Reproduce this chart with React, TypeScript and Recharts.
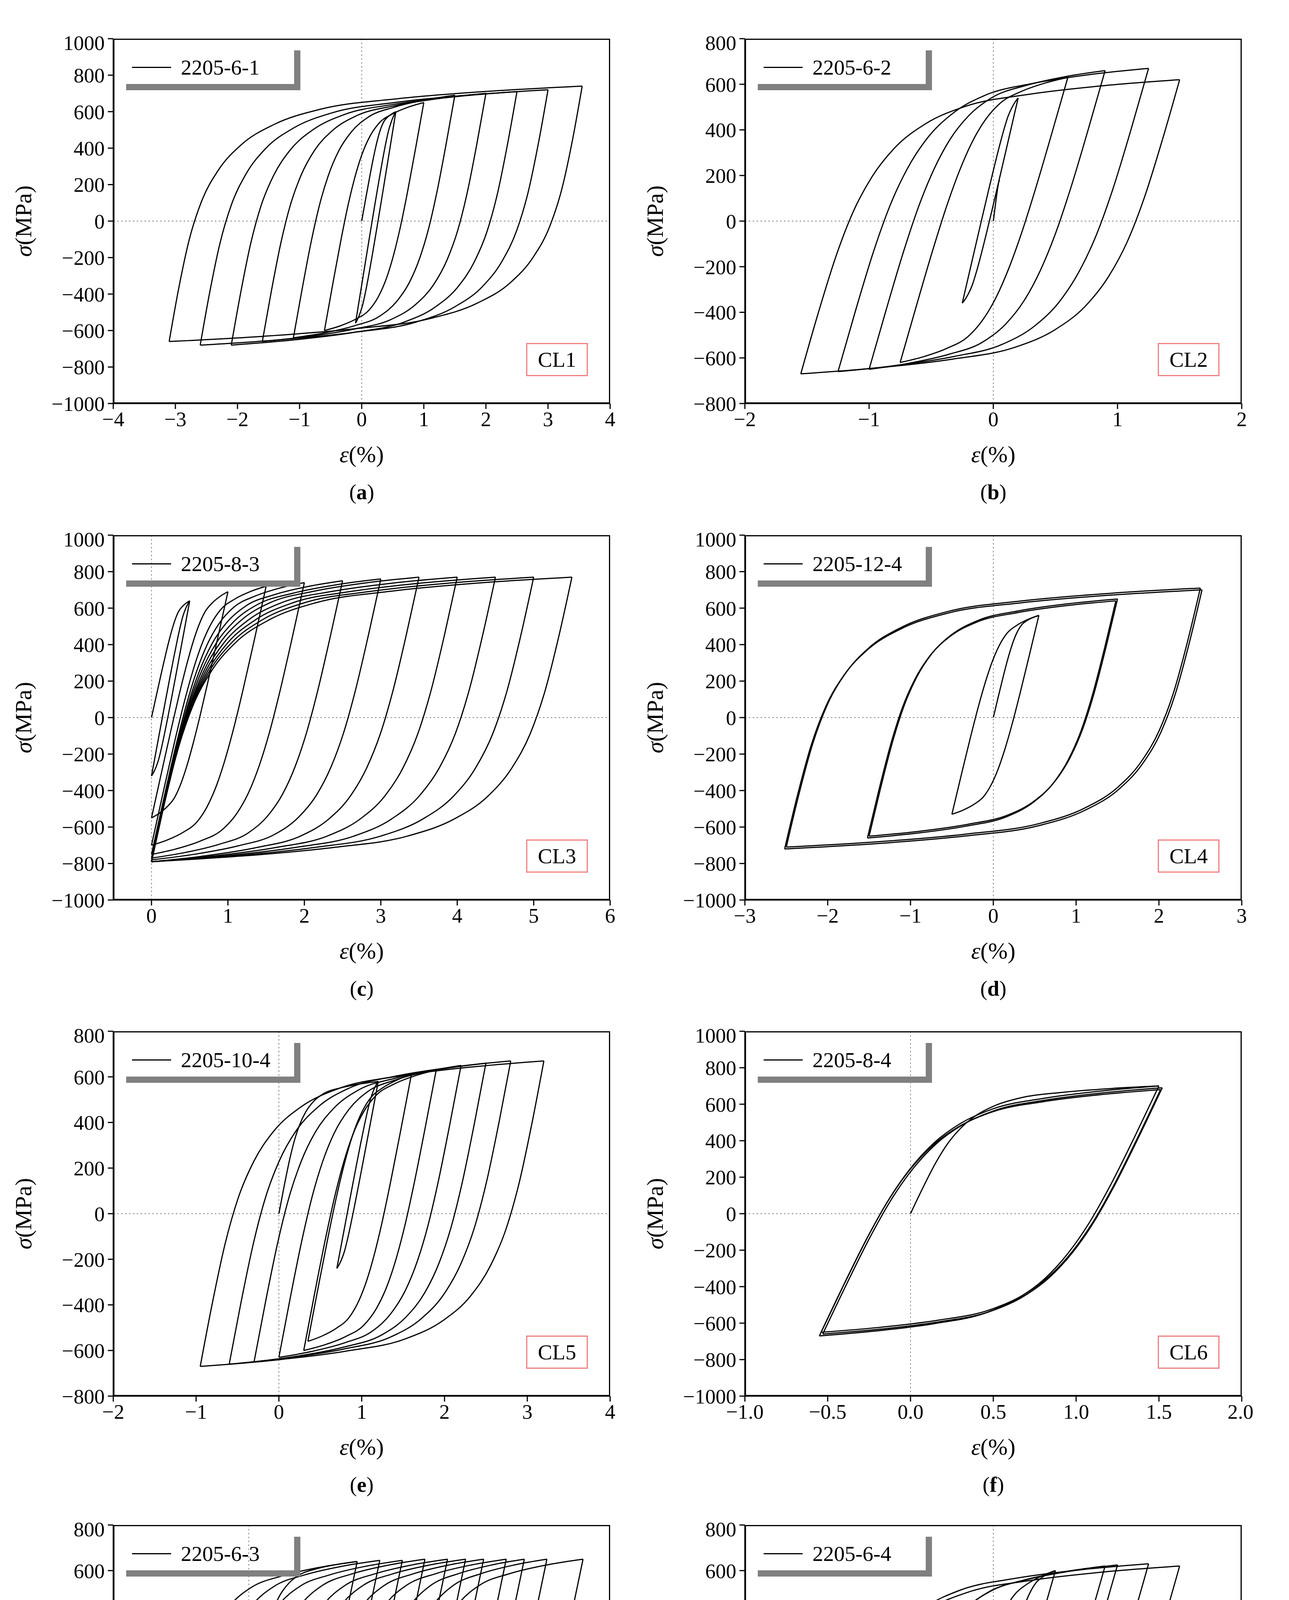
import React from 'react';
import { LineChart, Line, XAxis, YAxis, ReferenceLine } from 'recharts';

// typed shape of a branch (fraction of stress range, plastic fraction of strain)
const riseV = [0, 0.2, 0.4, 0.55, 0.67, 0.77, 0.85, 0.91, 0.95, 0.98, 1];
const riseP = [0, 0, 0.005, 0.02, 0.05, 0.1, 0.18, 0.3, 0.5, 0.75, 1];

// loop extremes per panel: [strain %, stress MPa]
const aMin = [[-0.1, -560], [-0.6, -600], [-1.1, -640], [-1.6, -660], [-2.1, -680], [-2.6, -680], [-3.1, -660]];
const aMax = [[0.55, 600], [1.0, 650], [1.5, 690], [2.0, 700], [2.5, 710], [3.0, 720], [3.55, 740]];
const bMin = [[-0.25, -360], [-0.75, -620], [-1.0, -650], [-1.25, -660], [-1.55, -670]];
const bMax = [[0.2, 540], [0.6, 630], [0.9, 660], [1.25, 670], [1.5, 620]];
const cMin = [[0, -320], [0, -550], [0, -700], [0, -750], [0, -770], [0, -780], [0, -790], [0, -790], [0, -790], [0, -790], [0, -790]];
const cMax = [[0.5, 640], [1.0, 690], [1.5, 720], [2.0, 740], [2.5, 750], [3.0, 760], [3.5, 770], [4.0, 770], [4.5, 770], [5.0, 770], [5.5, 770]];
const dMin = [[-0.5, -530], [-1.5, -650], [-1.52, -660], [-2.5, -710], [-2.52, -720]];
const dMax = [[0.55, 560], [1.5, 650], [1.48, 640], [2.5, 710], [2.52, 700]];
const eMin = [[0.7, -240], [0.35, -560], [0.3, -600], [0.0, -630], [-0.3, -650], [-0.6, -660], [-0.95, -670]];
const eMax = [[1.2, 580], [1.6, 610], [1.9, 630], [2.2, 650], [2.5, 660], [2.8, 670], [3.2, 670]];
const fMin = [[-0.55, -670], [-0.53, -660], [-0.54, -650]];
const fMax = [[1.5, 700], [1.52, 690], [1.51, 680]];
const gMin = [[-1.05, -620], [-0.8, -620], [-0.5, -620], [-0.25, -620], [0, -620], [0.2, -620], [0.45, -620], [0.7, -610], [1.0, -610], [1.25, -610], [1.5, -600]];
const gMax = [[1.2, 640], [1.45, 645], [1.7, 645], [1.95, 650], [2.2, 650], [2.4, 650], [2.6, 650], [2.85, 650], [3.05, 650], [3.3, 650], [3.7, 650]];
const hMin = [[-0.5, -560], [-1.0, -620], [-1.02, -625], [-1.5, -650], [-1.52, -655]];
const hMax = [[0.5, 600], [0.9, 620], [1.0, 625], [1.25, 630], [1.5, 620]];

const ticks8 = [-800, -600, -400, -200, 0, 200, 400, 600, 800];
const ticks10 = [-1000, -800, -600, -400, -200, 0, 200, 400, 600, 800, 1000];

const E = 1900;
function branch(x0: number, y0: number, x1: number, y1: number, up: boolean) {
  const H = Math.abs(y1 - y0), W = Math.abs(x1 - x0);
  const el = Math.min(H / E, 0.85 * W);
  return riseV.map((v, i) => {
    const dx = v * el + riseP[i] * (W - el);
    return up ? { x: x0 + dx, y: y0 + v * H } : { x: x0 - dx, y: y0 - v * H };
  });
}

const FONT = 'Liberation Serif, DejaVu Serif, serif';
const fmt = (d: number) => (d < 0 ? '−' + String(-d) : String(d));
const fmt1 = (d: number) => (d < 0 ? '−' + (-d).toFixed(1) : d.toFixed(1));

type P = {
  left: number; top: number; mins: number[][]; maxs: number[][]; init: number[];
  xd: number[]; xt: number[]; yd: number[]; yt: number[]; name: string; cl: string; cap: string; xf?: (d: number) => string;
};

const PW = 1272, PH = 934;

function Panel(p: P) {
  const series: { x: number; y: number }[][] = [];
  p.mins.forEach((m, i) => {
    const mx = p.maxs[i];
    series.push(branch(m[0], m[1], mx[0], mx[1], true));
    series.push(branch(mx[0], mx[1], m[0], m[1], false));
  });
  series.push(branch(0, 0, p.init[0], p.init[1], true));
  const tickStyle = { fontSize: 53, fill: '#000', fontFamily: FONT };
  return (
    <>
      <div style={{ position: 'absolute', left: p.left - 270, top: p.top - 20 }}>
        <LineChart width={PW + 300} height={PH + 190} margin={{ top: 20, right: 30, left: 0, bottom: 0 }}>
          <XAxis type="number" dataKey="x" domain={p.xd} ticks={p.xt} allowDataOverflow tickFormatter={p.xf || fmt}
            tick={tickStyle} stroke="#000" strokeWidth={3} tickSize={14} tickMargin={6} height={170}
            label={{ content: (pr: any) => { const vb = pr.viewBox; return (
              <text x={vb.x + vb.width / 2} y={vb.y + 150} textAnchor="middle" fontSize={60} fontFamily={FONT}>
                <tspan fontStyle="italic">ε</tspan>(%)</text>); } }} />
          <YAxis type="number" dataKey="y" domain={p.yd} ticks={p.yt} allowDataOverflow tickFormatter={fmt}
            tick={tickStyle} stroke="#000" strokeWidth={3} tickSize={14} tickMargin={8} width={270}
            label={{ content: (pr: any) => { const vb = pr.viewBox; const cx = vb.x + 60, cy = vb.y + vb.height / 2; return (
              <text x={cx} y={cy} transform={`rotate(-90 ${cx} ${cy})`} textAnchor="middle" fontSize={60} fontFamily={FONT}>
                <tspan fontStyle="italic">σ</tspan>(MPa)</text>); } }} />
          <ReferenceLine x={0} stroke="#888" strokeDasharray="4 6" strokeWidth={2} />
          <ReferenceLine y={0} stroke="#888" strokeDasharray="4 6" strokeWidth={2} />
          {series.map((s, i) => (
            <Line key={i} data={s} dataKey="y" type="monotoneX" stroke="#000" strokeWidth={3} dot={false} isAnimationActive={false} />
          ))}
        </LineChart>
      </div>
      <div style={{ position: 'absolute', left: p.left, top: p.top, width: PW, height: PH, border: '3px solid #000', boxSizing: 'border-box', pointerEvents: 'none' }} />
      <div style={{ position: 'absolute', left: p.left + 33, top: p.top + 30, width: 430, height: 86, borderBottom: '16px solid #808080', borderRight: '16px solid #808080', fontFamily: FONT, fontSize: 55, display: 'flex', alignItems: 'center' }}>
        <div style={{ width: 100, height: 3, background: '#000', marginLeft: 15, marginRight: 25 }} />
        <span>{p.name}</span>
      </div>
      <div style={{ position: 'absolute', left: p.left + PW - 57 - 158, top: p.top + PH - 70 - 85, width: 158, height: 85, border: '3px solid #f08080', boxSizing: 'border-box', fontFamily: FONT, fontSize: 55, display: 'flex', alignItems: 'center', justifyContent: 'center', background: '#fff' }}>{p.cl}</div>
      <div style={{ position: 'absolute', left: p.left, width: PW, top: p.top + PH + 195, textAlign: 'center', fontFamily: FONT, fontSize: 55 }}>(<b>{p.cap}</b>)</div>
    </>
  );
}

export default function App() {
  const L1 = 290, L2 = 1907;
  const T = [99, 1370, 2640, 3904];
  return (
    <div style={{ position: 'absolute', left: 0, top: 0, width: 3300, height: 5215, background: '#fff' }}>
      <Panel left={L1} top={T[0]} mins={aMin} maxs={aMax} init={[0.55, 600]} xd={[-4, 4]} xt={[-4, -3, -2, -1, 0, 1, 2, 3, 4]} yd={[-1000, 1000]} yt={ticks10} name="2205-6-1" cl="CL1" cap="a" />
      <Panel left={L2} top={T[0]} mins={bMin} maxs={bMax} init={[-0.05, 180]} xd={[-2, 2]} xt={[-2, -1, 0, 1, 2]} yd={[-800, 800]} yt={ticks8} name="2205-6-2" cl="CL2" cap="b" />
      <Panel left={L1} top={T[1]} mins={cMin} maxs={cMax} init={[0.5, 640]} xd={[-0.5, 6]} xt={[0, 1, 2, 3, 4, 5, 6]} yd={[-1000, 1000]} yt={ticks10} name="2205-8-3" cl="CL3" cap="c" />
      <Panel left={L2} top={T[1]} mins={dMin} maxs={dMax} init={[0.55, 560]} xd={[-3, 3]} xt={[-3, -2, -1, 0, 1, 2, 3]} yd={[-1000, 1000]} yt={ticks10} name="2205-12-4" cl="CL4" cap="d" />
      <Panel left={L1} top={T[2]} mins={eMin} maxs={eMax} init={[1.2, 580]} xd={[-2, 4]} xt={[-2, -1, 0, 1, 2, 3, 4]} yd={[-800, 800]} yt={ticks8} name="2205-10-4" cl="CL5" cap="e" />
      <Panel left={L2} top={T[2]} mins={fMin} maxs={fMax} init={[1.5, 700]} xd={[-1, 2]} xt={[-1, -0.5, 0, 0.5, 1, 1.5, 2]} xf={fmt1} yd={[-1000, 1000]} yt={ticks10} name="2205-8-4" cl="CL6" cap="f" />
      <Panel left={L1} top={T[3]} mins={gMin} maxs={gMax} init={[1.2, 640]} xd={[-1.5, 4]} xt={[-1, 0, 1, 2, 3, 4]} yd={[-800, 800]} yt={ticks8} name="2205-6-3" cl="CL7" cap="g" />
      <Panel left={L2} top={T[3]} mins={hMin} maxs={hMax} init={[0.5, 600]} xd={[-2, 2]} xt={[-2, -1, 0, 1, 2]} yd={[-800, 800]} yt={ticks8} name="2205-6-4" cl="CL8" cap="h" />
    </div>
  );
}
